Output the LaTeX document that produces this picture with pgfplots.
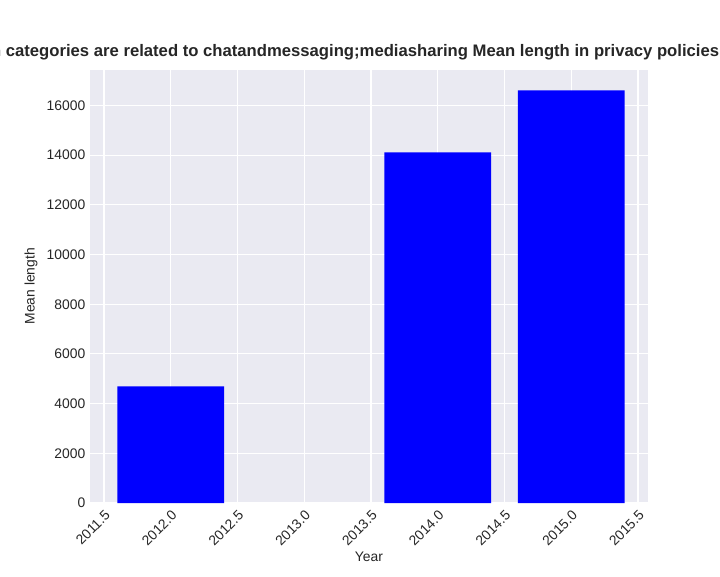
\documentclass[border=0pt]{standalone}
\usepackage{pgfplots}
\pgfplotsset{compat=1.18}
\usepackage{fontspec}
\setmainfont{Liberation Sans}
\definecolor{sbg}{HTML}{EAEAF2}
\definecolor{txt}{HTML}{262626}
\begin{document}
\begin{tikzpicture}
\clip (-67.5pt,-54.75pt) rectangle (472.5pt,377.25pt);
\fill[white] (-67.5pt,-54.75pt) rectangle (472.5pt,377.25pt);
\begin{axis}[
  at={(0,0)}, anchor=south west, scale only axis,
  width=418.5pt, height=325pt,
  xmin=2011.395, xmax=2015.575, ymin=0, ymax=17440,
  axis background/.style={fill=sbg},
  axis line style={draw=none},
  grid=major, major grid style={white, line width=0.8pt},
  tick style={draw=none},
  xtick={2011.5,2012,2012.5,2013,2013.5,2014,2014.5,2015,2015.5},
  xticklabels={2011.5,2012.0,2012.5,2013.0,2013.5,2014.0,2014.5,2015.0,2015.5},
  ytick={0,2000,...,16000},
  scaled ticks=false,
  /pgf/number format/assume math mode=true,
  /pgf/number format/fixed,
  /pgf/number format/1000 sep={},
  x tick label style={rotate=45, anchor=north east, font=\fontsize{10.4}{12}\selectfont, text=txt},
  y tick label style={font=\fontsize{10.4}{12}\selectfont, text=txt},
  xlabel={Year}, ylabel={Mean length},
  label style={font=\fontsize{10.4}{12}\selectfont, text=txt},
  xlabel style={yshift=4pt},
  title={When categories are related to chatandmessaging;mediasharing Mean length in privacy policies by year},
  title style={font=\bfseries\fontsize{12.5}{14}\selectfont, text=txt, yshift=-2pt},
]
\addplot[ybar, bar width=0.8, fill=blue, draw=none] coordinates {(2012,4690) (2014,14110) (2015,16610)};
\end{axis}
\end{tikzpicture}
\end{document}
